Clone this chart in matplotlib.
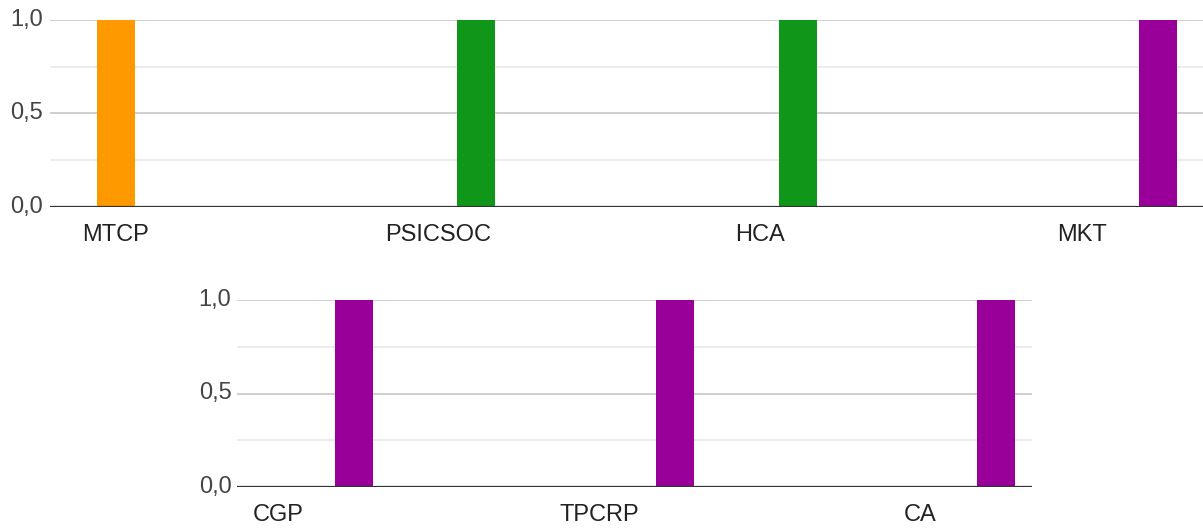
import numpy as np
import matplotlib
matplotlib.use("Agg")
import matplotlib.pyplot as plt

# Data
series_names = ["S1", "S2", "S3", "S4", "S5"]
series_colors = ["#3366cc", "#dc3912", "#ff9900", "#109618", "#990099"]

top_categories = ["MTCP", "PSICSOC", "HCA", "MKT"]
top_values = [
    [0, 0, 0, 0],  # S1
    [0, 0, 0, 0],  # S2
    [1, 0, 0, 0],  # S3
    [0, 1, 1, 0],  # S4
    [0, 0, 0, 1],  # S5
]

bottom_categories = ["CGP", "TPCRP", "CA"]
bottom_values = [
    [0, 0, 0],
    [0, 0, 0],
    [0, 0, 0],
    [0, 0, 0],
    [1, 1, 1],
]

y_ticks = [0.0, 0.5, 1.0]
y_ticklabels = ["0,0", "0,5", "1,0"]

plt.rcParams['font.family'] = ['Liberation Sans', 'DejaVu Sans']

W, H = 1203, 529
fig = plt.figure(figsize=(W / 100, H / 100), dpi=100)


def px_axes(left, right, top, bottom):
    return fig.add_axes([left / W, 1 - bottom / H, (right - left) / W, (bottom - top) / H])


def draw(ax, cats, vals, xlim, ylabel_pad):
    n = len(series_names)
    bw = 38 / 322.0
    x = np.arange(len(cats))
    for i in range(n):
        offs = (i - (n - 1) / 2) * bw
        ax.bar(x + offs, vals[i], width=bw, color=series_colors[i], linewidth=0, zorder=3)
    ax.set_xlim(*xlim)
    ax.set_ylim(0, 1.0)
    for yv in [0.25, 0.75]:
        ax.axhline(yv, color="#ebebeb", lw=1.3, zorder=1)
    for yv in [0.5, 1.0]:
        ax.axhline(yv, color="#cccccc", lw=1.3, zorder=1)
    ax.axhline(0, color="#333333", lw=1.6, zorder=4)
    ax.set_yticks(y_ticks)
    ax.set_yticklabels(y_ticklabels, fontsize=17, color="#444444")
    ax.set_xticks(x)
    ax.set_xticklabels(cats, fontsize=17, color="#222222")
    ax.tick_params(axis="y", length=0, pad=ylabel_pad)
    ax.tick_params(axis="x", length=0, pad=12)
    for s in ax.spines.values():
        s.set_visible(False)
    ax.patch.set_alpha(0)
    for lab in ax.get_yticklabels():
        lab.set_verticalalignment("center")


ax1 = px_axes(50, 1203, 20, 207)
draw(ax1, top_categories, top_values, ((50 - 116) / 322.0, (1203 - 116) / 322.0), 5)

ax2 = px_axes(237, 1032, 300, 487)
draw(ax2, bottom_categories, bottom_values, ((237 - 278) / 321.0, (1032 - 278) / 321.0), 4)

fig.savefig("out.png", dpi=100, facecolor="white")
